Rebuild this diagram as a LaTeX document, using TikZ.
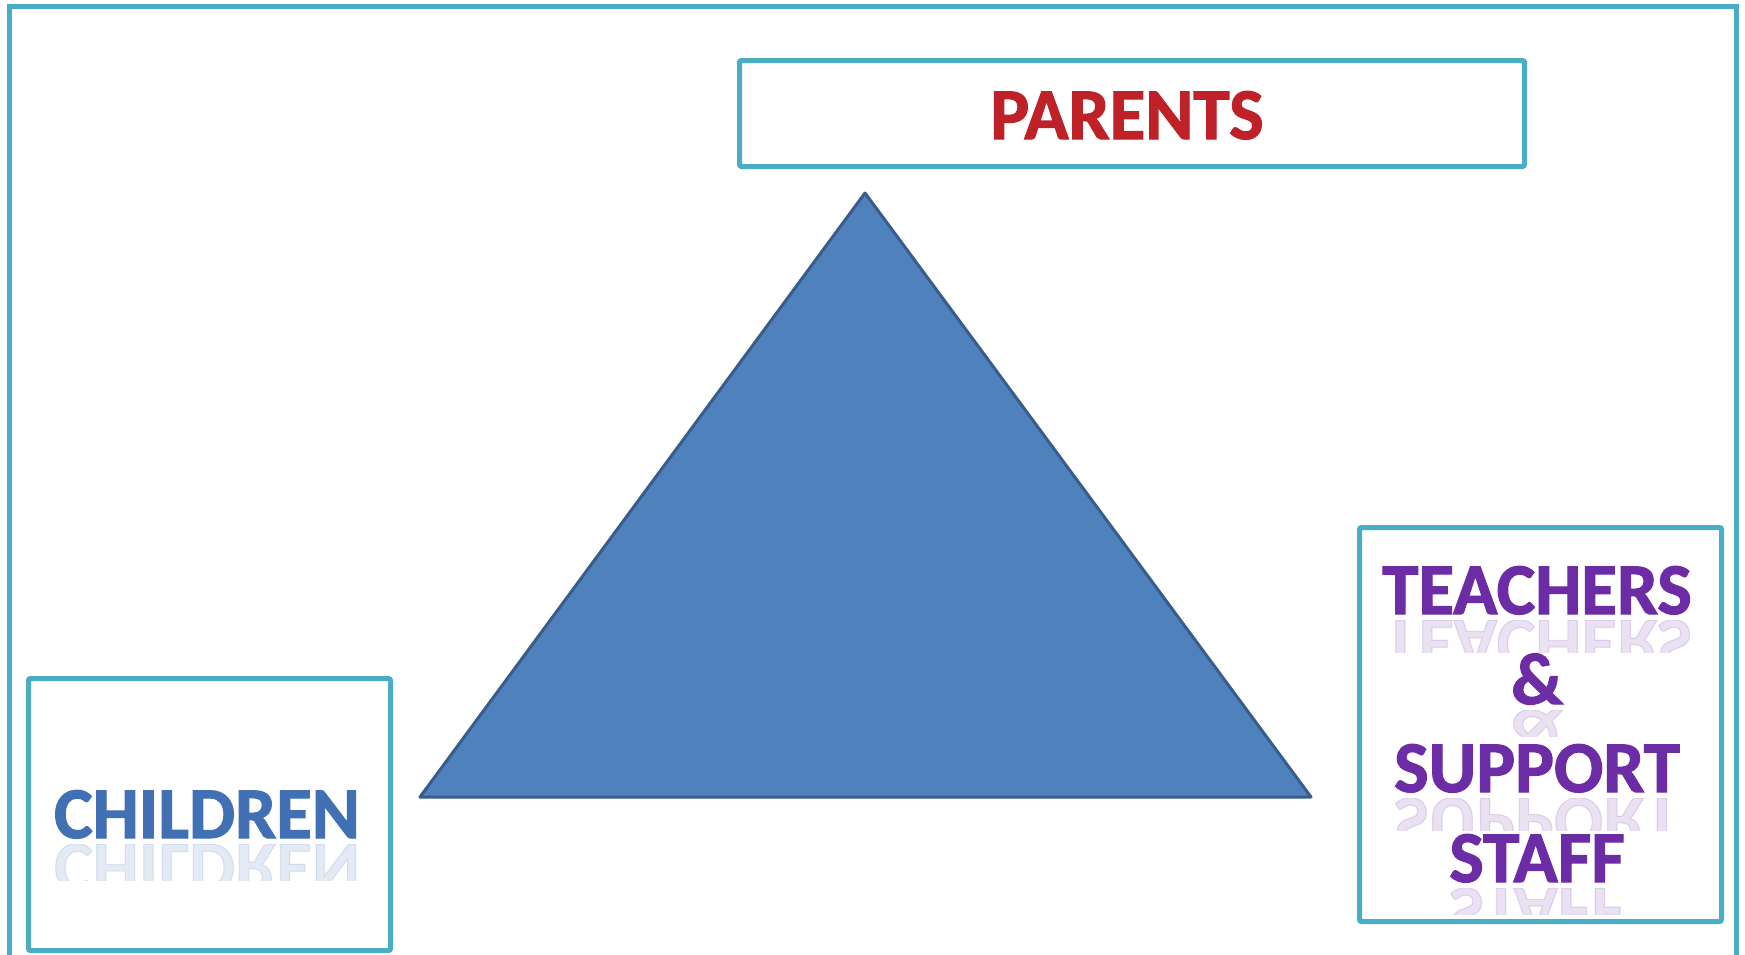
\documentclass[tikz,border=0pt]{standalone}
\usepackage{fontspec}
\setmainfont{Carlito}
\newfontfamily\heavyfont[FakeBold=1.6]{Carlito Bold}
\definecolor{frameblue}{HTML}{4BACC6}
\definecolor{trifill}{HTML}{4F81BD}
\definecolor{tristroke}{HTML}{385D8A}
\definecolor{parentred}{HTML}{BE2228}
\definecolor{childblue}{HTML}{4270B5}
\definecolor{staffpurple}{HTML}{6B2CA6}
\tikzset{
  framebox/.style={draw=frameblue, line width=5bp, rounded corners=2bp},
  bigword/.style={font=\heavyfont\fontsize{73bp}{80bp}\selectfont, inner sep=0pt, anchor=base},
  reflect/.style={bigword, yscale=-1, opacity=0.14},
}
\begin{document}
\begin{tikzpicture}[x=1bp,y=-1bp]
\useasboundingbox (0,0) rectangle (1745,954);
\fill[white] (0,0) rectangle (1745,954);
% outer frame
\begin{scope}
\clip (0,0) rectangle (1745,954);
\draw[draw=frameblue, line width=5bp] (9,6) rectangle (1736,957);
\end{scope}
% boxes
\node[framebox, minimum width=785bp, minimum height=106bp, anchor=north west] (parentsbox) at (737,58) {};
\node[framebox, minimum width=362bp, minimum height=272bp, anchor=north west] (childbox) at (26,676) {};
\node[framebox, minimum width=362bp, minimum height=394bp, anchor=north west] (staffbox) at (1357,525) {};
% triangle
\coordinate (apex) at (865,193);
\coordinate (bl) at (420,797);
\coordinate (br) at (1311,797);
\draw[fill=trifill, draw=tristroke, line width=3bp, line join=round] (apex) -- (bl) -- (br) -- cycle;
% reflections
\begin{scope}
\clip (30,844) rectangle (385,880);
\node[reflect, text=childblue] (childrefl) at (207,844) {CHILDREN};
\end{scope}
\begin{scope}
\clip (1362,620) rectangle (1714,652);
\node[reflect, text=staffpurple] (r1) at (1537,620) {TEACHERS};
\end{scope}
\begin{scope}
\clip (1362,710) rectangle (1714,736);
\node[reflect, text=staffpurple] (r2) at (1537,710) {\&};
\end{scope}
\begin{scope}
\clip (1362,798) rectangle (1714,830);
\node[reflect, text=staffpurple] (r3) at (1537,798) {SUPPORT};
\end{scope}
\begin{scope}
\clip (1362,888) rectangle (1714,914);
\node[reflect, text=staffpurple] (r4) at (1537,888) {STAFF};
\end{scope}
% labels
\node[bigword, text=parentred] (parents) at (1127,139) {PARENTS};
\node[bigword, text=childblue] (children) at (207,838) {CHILDREN};
\node[bigword, text=staffpurple] (teachers) at (1537,614) {TEACHERS};
\node[bigword, text=staffpurple] (amp) at (1537,704) {\&};
\node[bigword, text=staffpurple] (support) at (1537,792) {SUPPORT};
\node[bigword, text=staffpurple] (staff) at (1537,882) {STAFF};
\end{tikzpicture}
\end{document}
